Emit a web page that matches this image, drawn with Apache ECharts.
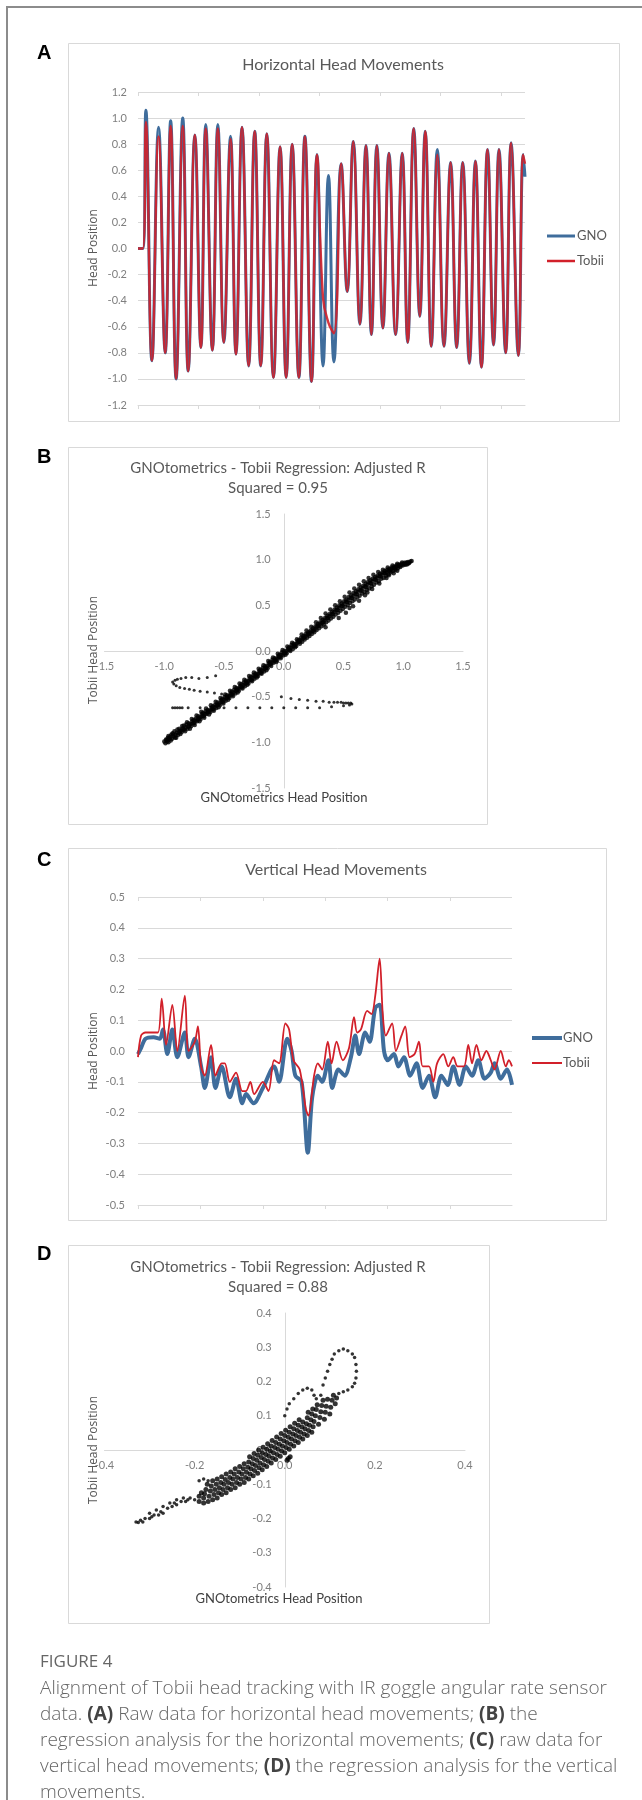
<!DOCTYPE html>
<html>
<head>
<meta charset="utf-8">
<script src="https://cdn.jsdelivr.net/npm/echarts@6/dist/echarts.min.js"></script>
<style>
html, body { margin: 0; padding: 0; background: #fff; }
#chart { width: 642px; height: 1800px; }
</style>
</head>
<body>
<div id="chart"></div>
<script>
// A: horizontal head movements (sample index, peaks and troughs)
var horizX = [0, 8, 13, 23, 34, 45, 54, 63, 74, 83, 94, 104, 112, 123, 132, 142, 153, 162, 172, 183, 193, 203, 213, 224, 235, 245, 255, 266, 276, 287, 296, 306, 315, 324, 336, 346, 356, 367, 377, 386, 395, 405, 415, 426, 437, 446, 456, 466, 475, 485, 495, 506, 517, 527, 537, 548, 558, 568, 578, 588, 597, 608, 617, 629, 637, 640];
var horizGNO = [0, 0, 1.06, -0.86, 0.93, -0.80, 0.98, -1.00, 1.00, -0.94, 0.87, -0.76, 0.95, -0.78, 0.95, -0.72, 0.86, -0.81, 0.93, -0.90, 0.90, -0.90, 0.88, -0.99, 0.78, -0.99, 0.80, -0.99, 0.86, -1.02, 0.72, -0.90, 0.56, -0.87, 0.65, -0.33, 0.82, -0.58, 0.79, -0.66, 0.79, -0.61, 0.73, -0.66, 0.73, -0.72, 0.92, -0.52, 0.90, -0.75, 0.76, -0.75, 0.66, -0.76, 0.66, -0.88, 0.67, -0.91, 0.76, -0.74, 0.76, -0.80, 0.81, -0.82, 0.72, 0.55];
var horizTobii = [0, 0, 0.97, -0.86, 0.86, -0.80, 0.94, -1.00, 0.94, -0.94, 0.87, -0.76, 0.92, -0.78, 0.92, -0.72, 0.84, -0.81, 0.93, -0.90, 0.90, -0.90, 0.88, -0.99, 0.78, -0.99, 0.80, -0.99, 0.86, -1.02, 0.72, -0.38, -0.57, -0.65, 0.65, -0.33, 0.82, -0.58, 0.79, -0.66, 0.79, -0.61, 0.73, -0.66, 0.73, -0.72, 0.92, -0.52, 0.90, -0.75, 0.72, -0.75, 0.66, -0.76, 0.66, -0.88, 0.67, -0.91, 0.76, -0.74, 0.76, -0.80, 0.81, -0.82, 0.72, 0.65];
var horizTicks = [0, 100, 200, 300, 400, 500, 600];

// B: GNOtometrics vs Tobii, horizontal (main band)
var regressionH = [
  [-1.00,-0.99],[-0.99,-1.01],[-0.985,-0.97],[-0.975,-0.99],[-0.97,-0.95],
  [-0.965,-0.93],[-0.96,-0.965],[-0.95,-0.94],[-0.945,-0.98],[-0.94,-0.915],
  [-0.93,-0.90],[-0.92,-0.935],[-0.915,-0.88],[-0.905,-0.92],[-0.90,-0.95],
  [-0.89,-0.86],[-0.88,-0.895],[-0.875,-0.85],[-0.865,-0.91],[-0.86,-0.87],
  [-0.85,-0.82],[-0.84,-0.86],[-0.835,-0.815],[-0.825,-0.88],[-0.82,-0.835],
  [-0.81,-0.78],[-0.80,-0.83],[-0.795,-0.79],[-0.785,-0.85],[-0.78,-0.80],
  [-0.77,-0.745],[-0.76,-0.79],[-0.755,-0.755],[-0.745,-0.81],[-0.74,-0.765],
  [-0.73,-0.705],[-0.72,-0.75],[-0.715,-0.715],[-0.705,-0.77],[-0.70,-0.725],
  [-0.69,-0.665],[-0.68,-0.71],[-0.675,-0.68],[-0.665,-0.73],[-0.66,-0.69],
  [-0.65,-0.63],[-0.64,-0.67],[-0.635,-0.645],[-0.625,-0.695],[-0.62,-0.655],
  [-0.61,-0.595],[-0.60,-0.635],[-0.595,-0.605],[-0.585,-0.655],[-0.58,-0.615],
  [-0.57,-0.555],[-0.56,-0.595],[-0.555,-0.565],[-0.545,-0.615],[-0.54,-0.575],
  [-0.53,-0.515],[-0.52,-0.555],[-0.515,-0.525],[-0.505,-0.575],[-0.50,-0.535],
  [-0.49,-0.475],[-0.48,-0.515],[-0.475,-0.485],[-0.465,-0.535],[-0.46,-0.495],
  [-0.45,-0.435],[-0.44,-0.475],[-0.435,-0.445],[-0.425,-0.495],[-0.42,-0.455],
  [-0.41,-0.395],[-0.40,-0.435],[-0.395,-0.405],[-0.385,-0.455],[-0.38,-0.415],
  [-0.37,-0.355],[-0.36,-0.395],[-0.355,-0.365],[-0.345,-0.41],[-0.34,-0.375],
  [-0.33,-0.315],[-0.32,-0.355],[-0.315,-0.325],[-0.305,-0.37],[-0.30,-0.335],
  [-0.29,-0.275],[-0.28,-0.315],[-0.275,-0.285],[-0.265,-0.33],[-0.26,-0.295],
  [-0.25,-0.235],[-0.24,-0.275],[-0.235,-0.245],[-0.225,-0.29],[-0.22,-0.255],
  [-0.21,-0.195],[-0.20,-0.235],[-0.195,-0.205],[-0.185,-0.25],[-0.18,-0.215],
  [-0.17,-0.155],[-0.16,-0.195],[-0.155,-0.165],[-0.145,-0.21],[-0.14,-0.17],
  [-0.13,-0.11],[-0.12,-0.15],[-0.115,-0.12],[-0.105,-0.165],[-0.10,-0.125],
  [-0.09,-0.07],[-0.08,-0.105],[-0.075,-0.08],[-0.065,-0.12],[-0.06,-0.085],
  [-0.05,-0.03],[-0.04,-0.065],[-0.035,-0.04],[-0.025,-0.08],[-0.02,-0.045],
  [-0.01,0.01],[0.00,-0.025],[0.005,0.00],[0.015,-0.04],[0.02,-0.005],
  [0.03,0.05],[0.04,0.015],[0.045,0.04],[0.055,0.00],[0.06,0.035],
  [0.07,0.09],[0.08,0.055],[0.085,0.08],[0.095,0.04],[0.10,0.075],
  [0.11,0.13],[0.12,0.095],[0.125,0.12],[0.135,0.08],[0.14,0.115],
  [0.15,0.18],[0.16,0.14],[0.165,0.165],[0.175,0.125],[0.18,0.16],
  [0.19,0.225],[0.20,0.18],[0.205,0.205],[0.215,0.165],[0.22,0.20],
  [0.23,0.265],[0.24,0.22],[0.245,0.25],[0.255,0.205],[0.26,0.24],
  [0.27,0.315],[0.28,0.27],[0.285,0.295],[0.295,0.25],[0.30,0.29],
  [0.31,0.36],[0.32,0.31],[0.325,0.34],[0.335,0.29],[0.34,0.335],
  [0.35,0.41],[0.36,0.36],[0.365,0.385],[0.375,0.335],[0.38,0.38],
  [0.39,0.455],[0.40,0.40],[0.405,0.43],[0.415,0.375],[0.42,0.425],
  [0.43,0.50],[0.44,0.45],[0.445,0.475],[0.455,0.42],[0.46,0.47],
  [0.47,0.545],[0.48,0.49],[0.485,0.52],[0.495,0.46],[0.50,0.51],
  [0.51,0.595],[0.52,0.54],[0.525,0.565],[0.535,0.505],[0.54,0.555],
  [0.55,0.64],[0.56,0.58],[0.565,0.61],[0.575,0.545],[0.58,0.60],
  [0.59,0.685],[0.60,0.625],[0.605,0.655],[0.615,0.59],[0.62,0.645],
  [0.63,0.725],[0.64,0.665],[0.645,0.695],[0.655,0.63],[0.66,0.685],
  [0.67,0.765],[0.68,0.705],[0.685,0.735],[0.695,0.67],[0.70,0.725],
  [0.71,0.80],[0.72,0.745],[0.725,0.775],[0.735,0.71],[0.74,0.765],
  [0.75,0.835],[0.76,0.785],[0.765,0.81],[0.775,0.75],[0.78,0.80],
  [0.79,0.865],[0.80,0.82],[0.805,0.845],[0.815,0.79],[0.82,0.835],
  [0.83,0.89],[0.84,0.85],[0.845,0.875],[0.855,0.825],[0.86,0.865],
  [0.87,0.915],[0.88,0.88],[0.885,0.90],[0.895,0.86],[0.90,0.895],
  [0.91,0.935],[0.92,0.905],[0.925,0.925],[0.935,0.89],[0.94,0.92],
  [0.95,0.955],[0.96,0.93],[0.965,0.945],[0.975,0.92],[0.98,0.94],
  [0.99,0.97],[1.00,0.95],[1.01,0.965],[1.02,0.945],[1.03,0.96],
  [1.04,0.975],[1.05,0.965],[1.06,0.98],[1.07,0.985],
  [-0.98,-0.975],[-0.965,-1.0],[-0.955,-0.955],[-0.935,-0.96],[-0.925,-0.915],[-0.91,-0.95],[-0.895,-0.895],[-0.885,-0.92],
  [-0.87,-0.875],[-0.855,-0.89],[-0.845,-0.845],[-0.83,-0.86],[-0.815,-0.805],[-0.805,-0.85],[-0.79,-0.815],[-0.775,-0.825],
  [-0.765,-0.77],[-0.75,-0.79],[-0.735,-0.74],[-0.725,-0.77],[-0.71,-0.735],[-0.695,-0.745],[-0.685,-0.69],[-0.67,-0.715],
  [-0.655,-0.66],[-0.645,-0.69],[-0.63,-0.665],[-0.615,-0.67],[-0.605,-0.62],[-0.59,-0.64],[-0.575,-0.59],[-0.565,-0.625],
  [-0.55,-0.585],[-0.535,-0.595],[-0.525,-0.54],[-0.51,-0.56],[-0.495,-0.505],[-0.485,-0.545],[-0.47,-0.505],[-0.455,-0.515],
  [-0.445,-0.465],[-0.43,-0.48],[-0.415,-0.425],[-0.405,-0.465],[-0.39,-0.425],[-0.375,-0.435],[-0.365,-0.385],[-0.35,-0.40],
  [-0.335,-0.345],[-0.325,-0.385],[-0.31,-0.345],[-0.295,-0.355],[-0.285,-0.30],[-0.27,-0.32],[-0.255,-0.265],[-0.245,-0.305],
  [-0.23,-0.265],[-0.215,-0.275],[-0.205,-0.22],[-0.19,-0.24],[-0.175,-0.185],[-0.165,-0.225],[-0.15,-0.185],[-0.135,-0.19],
  [-0.125,-0.135],[-0.11,-0.145],[-0.095,-0.095],[-0.085,-0.13],[-0.07,-0.10],[-0.055,-0.105],[-0.045,-0.055],[-0.03,-0.065],
  [-0.015,-0.015],[-0.005,-0.05],[0.01,-0.02],[0.025,-0.025],[0.035,0.025],[0.05,0.015],[0.065,0.065],[0.075,0.02],
  [0.09,0.06],[0.105,0.055],[0.115,0.105],[0.13,0.10],[0.145,0.145],[0.155,0.10],[0.17,0.145],[0.185,0.185],
  [0.195,0.145],[0.21,0.185],[0.225,0.225],[0.235,0.185],[0.25,0.225],[0.265,0.27],[0.275,0.23],[0.29,0.275],
  [0.305,0.315],[0.315,0.27],[0.33,0.315],[0.345,0.36],[0.355,0.315],[0.37,0.36],[0.385,0.405],[0.395,0.355],
  [0.41,0.405],[0.425,0.455],[0.435,0.40],[0.45,0.45],[0.465,0.50],[0.475,0.44],[0.49,0.495],[0.505,0.545],
  [0.515,0.485],[0.53,0.535],[0.545,0.59],[0.555,0.525],[0.57,0.58],[0.585,0.635],[0.595,0.565],[0.61,0.62],
  [0.625,0.675],[0.635,0.605],[0.65,0.66],[0.665,0.715],[0.675,0.645],[0.69,0.70],[0.705,0.755],[0.715,0.685],
  [0.73,0.74],[0.745,0.79],[0.755,0.725],[0.77,0.78],[0.785,0.825],[0.795,0.765],[0.81,0.815],[0.825,0.86],
  [0.835,0.80],[0.85,0.85],[0.865,0.89],[0.875,0.84],[0.89,0.88],[0.905,0.915],[0.915,0.875],[0.93,0.905],
  [0.945,0.94],[0.955,0.905],[0.97,0.935],[0.985,0.955],[0.995,0.935],[1.01,0.95],[1.025,0.97],[1.035,0.95],[1.045,0.96],
  [0.46,0.36],[0.52,0.42],[0.58,0.49],[0.63,0.55],[0.68,0.61],[0.74,0.68],[0.80,0.74],[0.86,0.80],[0.92,0.85],[0.35,0.26],
  [0.55,0.47],[0.70,0.64],[0.88,0.83],[0.95,0.88]
];
// B: the stretch where the two trackers disagree
var regressionHOut = [
  [-0.92,-0.36],[-0.93,-0.34],[-0.91,-0.32],[-0.89,-0.31],[-0.86,-0.30],[-0.82,-0.29],[-0.77,-0.29],[-0.71,-0.30],[-0.64,-0.29],[-0.57,-0.27],
  [-0.90,-0.38],[-0.87,-0.40],[-0.83,-0.41],[-0.79,-0.42],[-0.75,-0.43],[-0.70,-0.44],[-0.64,-0.45],[-0.58,-0.46],[-0.52,-0.47],
  [-0.02,-0.50],[0.06,-0.52],[0.13,-0.53],[0.20,-0.54],[0.27,-0.55],[0.33,-0.55],[0.38,-0.56],[0.42,-0.56],[0.45,-0.56],[0.48,-0.56],
  [0.50,-0.57],[0.52,-0.57],[0.54,-0.57],[0.56,-0.57],[0.57,-0.58],
  [-0.93,-0.62],[-0.91,-0.62],[-0.89,-0.62],[-0.87,-0.62],[-0.85,-0.62],[-0.80,-0.62],[-0.70,-0.62],[-0.60,-0.62],[-0.50,-0.62],[-0.40,-0.62],
  [-0.30,-0.62],[-0.20,-0.62],[-0.10,-0.62],[0.00,-0.62],[0.10,-0.62],[0.20,-0.62],[0.30,-0.62],[0.40,-0.61],[0.50,-0.60],[0.55,-0.59]
];

// C: vertical head movements
var vertXTobii = [0, 5, 12, 22, 32, 38, 45, 55, 63, 75, 81, 91, 96, 101, 107, 117, 124, 134, 139, 147, 157, 167, 173, 180, 186, 200, 209, 218, 226, 236, 242, 249, 259, 269, 273, 282, 288, 295, 304, 310, 318, 328, 338, 346, 351, 357, 367, 374, 380, 387, 392, 397, 407, 413, 422, 428, 435, 443, 450, 456, 466, 473, 479, 489, 497, 505, 512, 522, 529, 535, 542, 550, 558, 565, 571, 581, 589, 594, 599];
var vertTobii = [-0.02, 0.05, 0.06, 0.06, 0.06, 0.17, 0.02, 0.15, 0.0, 0.18, 0.0, 0.03, 0.08, -0.05, -0.08, 0.02, -0.08, -0.04, -0.04, -0.10, -0.07, -0.13, -0.13, -0.10, -0.14, -0.10, -0.13, -0.03, -0.04, 0.09, 0.07, -0.03, -0.06, -0.19, -0.21, -0.08, -0.04, -0.06, 0.03, -0.04, 0.03, -0.03, 0.01, 0.11, 0.06, 0.07, 0.13, 0.12, 0.18, 0.30, 0.12, 0.05, 0.09, 0.0, 0.05, 0.08, -0.02, -0.01, 0.03, -0.05, -0.05, -0.10, -0.04, -0.01, -0.05, -0.02, -0.05, -0.05, 0.02, -0.04, 0.02, -0.03, 0.0, -0.03, -0.06, 0.0, -0.05, -0.03, -0.05];
var vertXGNO = [0, 5, 12, 25, 35, 40, 47, 55, 63, 75, 81, 91, 101, 107, 117, 124, 134, 147, 157, 167, 173, 185, 200, 218, 226, 239, 246, 252, 262, 272, 279, 288, 295, 305, 311, 321, 331, 341, 348, 354, 364, 371, 380, 387, 394, 400, 410, 417, 426, 436, 446, 456, 466, 476, 486, 496, 505, 515, 525, 535, 545, 555, 565, 571, 581, 591, 599];
var vertGNO = [-0.01, 0.01, 0.04, 0.045, 0.04, 0.07, -0.01, 0.07, -0.02, 0.06, -0.02, 0.04, -0.05, -0.12, -0.02, -0.12, -0.05, -0.15, -0.09, -0.17, -0.14, -0.17, -0.12, -0.05, -0.10, 0.04, 0.0, -0.08, -0.10, -0.33, -0.15, -0.08, -0.10, -0.03, -0.12, -0.06, -0.08, -0.02, 0.05, -0.01, 0.06, 0.03, 0.14, 0.15, 0.0, -0.03, -0.01, -0.05, -0.02, -0.08, -0.04, -0.12, -0.08, -0.15, -0.08, -0.11, -0.05, -0.11, -0.05, -0.08, -0.03, -0.09, -0.07, -0.04, -0.09, -0.06, -0.11];
var vertTicks = [0, 100, 200, 300, 400, 500];

// D: GNOtometrics vs Tobii, vertical (main cloud)
var regressionV = [
  [-0.19,-0.15],[-0.19,-0.135],[-0.185,-0.125],
  [-0.18,-0.155],[-0.18,-0.14],[-0.178,-0.128],[-0.175,-0.115],[-0.172,-0.10],
  [-0.17,-0.15],[-0.168,-0.135],[-0.165,-0.12],[-0.163,-0.105],[-0.16,-0.09],
  [-0.16,-0.145],[-0.157,-0.13],[-0.155,-0.115],[-0.152,-0.10],[-0.15,-0.085],
  [-0.15,-0.14],[-0.147,-0.125],[-0.145,-0.11],[-0.142,-0.095],[-0.14,-0.078],
  [-0.14,-0.13],[-0.137,-0.115],[-0.135,-0.10],[-0.132,-0.086],[-0.13,-0.07],
  [-0.13,-0.125],[-0.127,-0.11],[-0.125,-0.095],[-0.122,-0.08],[-0.12,-0.064],
  [-0.12,-0.115],[-0.117,-0.10],[-0.115,-0.085],[-0.112,-0.07],[-0.11,-0.055],
  [-0.11,-0.11],[-0.107,-0.095],[-0.105,-0.08],[-0.102,-0.064],[-0.10,-0.048],
  [-0.10,-0.10],[-0.097,-0.085],[-0.095,-0.07],[-0.092,-0.055],[-0.09,-0.04],
  [-0.09,-0.095],[-0.087,-0.08],[-0.085,-0.065],[-0.082,-0.05],[-0.08,-0.035],[-0.078,-0.02],
  [-0.08,-0.085],[-0.077,-0.07],[-0.075,-0.055],[-0.072,-0.04],[-0.07,-0.025],[-0.068,-0.01],
  [-0.07,-0.075],[-0.067,-0.06],[-0.065,-0.045],[-0.062,-0.03],[-0.06,-0.015],[-0.058,0.0],
  [-0.06,-0.068],[-0.057,-0.052],[-0.055,-0.038],[-0.052,-0.022],[-0.05,-0.008],[-0.048,0.008],
  [-0.05,-0.058],[-0.047,-0.043],[-0.045,-0.028],[-0.042,-0.013],[-0.04,0.002],[-0.038,0.018],
  [-0.04,-0.048],[-0.037,-0.033],[-0.035,-0.018],[-0.032,-0.003],[-0.03,0.012],[-0.028,0.028],
  [-0.03,-0.038],[-0.027,-0.023],[-0.025,-0.008],[-0.022,0.007],[-0.02,0.022],[-0.018,0.038],
  [-0.02,-0.028],[-0.017,-0.013],[-0.015,0.002],[-0.012,0.017],[-0.01,0.032],[-0.008,0.048],
  [-0.01,-0.018],[-0.007,-0.003],[-0.005,0.012],[-0.002,0.027],[0.0,0.042],[0.002,0.058],
  [0.0,-0.008],[0.003,0.007],[0.005,0.022],[0.008,0.037],[0.01,0.052],[0.012,0.068],
  [0.01,0.002],[0.013,0.017],[0.015,0.032],[0.018,0.047],[0.02,0.062],[0.022,0.078],
  [0.02,0.012],[0.023,0.027],[0.025,0.042],[0.028,0.057],[0.03,0.072],[0.032,0.088],
  [0.03,0.022],[0.033,0.037],[0.035,0.052],[0.038,0.067],[0.04,0.082],
  [0.04,0.032],[0.043,0.047],[0.045,0.062],[0.048,0.077],[0.05,0.094],[0.052,0.11],
  [0.05,0.042],[0.053,0.057],[0.055,0.072],[0.058,0.088],[0.06,0.105],[0.062,0.12],
  [0.06,0.052],[0.063,0.068],[0.065,0.083],[0.068,0.10],[0.07,0.118],[0.072,0.132],
  [0.075,0.075],[0.078,0.095],[0.08,0.112],[0.082,0.13],[0.085,0.145],
  [0.088,0.09],[0.09,0.11],[0.092,0.128],[0.095,0.148],
  [0.10,0.105],[0.102,0.125],[0.105,0.145],[0.108,0.16],[0.112,0.135],[0.115,0.152],
  [0.005,-0.03],[0.012,-0.02],[0.008,-0.025]
];
// D: the lower tail and the upper loop
var regressionVOut = [
  [-0.33,-0.21],[-0.325,-0.212],[-0.32,-0.205],[-0.315,-0.21],[-0.31,-0.2],[-0.30,-0.2],[-0.295,-0.195],[-0.29,-0.19],[-0.28,-0.19],[-0.275,-0.18],
  [-0.27,-0.185],[-0.26,-0.17],[-0.25,-0.165],[-0.245,-0.155],[-0.24,-0.16],[-0.23,-0.15],[-0.22,-0.15],[-0.215,-0.145],[-0.21,-0.14],[-0.20,-0.145],
  [-0.30,-0.185],[-0.285,-0.175],[-0.27,-0.165],[-0.255,-0.155],[-0.24,-0.145],[-0.225,-0.14],[-0.19,-0.09],[-0.18,-0.085],[-0.17,-0.09],
  [0.0,0.10],[0.005,0.12],[0.01,0.135],[0.02,0.15],[0.03,0.165],[0.04,0.175],[0.05,0.18],[0.06,0.175],[0.065,0.16],[0.07,0.15],
  [0.08,0.16],[0.085,0.19],[0.09,0.21],[0.095,0.23],[0.10,0.25],[0.105,0.265],[0.11,0.28],[0.12,0.29],[0.13,0.295],[0.14,0.29],
  [0.15,0.28],[0.155,0.27],[0.158,0.25],[0.159,0.23],[0.158,0.21],[0.155,0.195],[0.15,0.185],[0.14,0.175],[0.13,0.17],[0.12,0.165]
];

function pairs(xs, ys) {
  return xs.map(function (x, i) { return [x, ys[i]]; });
}
function oneDec(v) {
  return v.toFixed(1);
}

var blue = '#3f6d9c';
var red = '#d2202a';
var grey = '#7f7f7f';
var lineGrey = '#d9d9d9';
var font = 'Lato, "Open Sans", sans-serif';
var capFont = '"Open Sans", Lato, sans-serif';

var myChart = echarts.init(document.getElementById('chart'), null, { renderer: 'canvas' });

// 时间序列的 x 轴（底部带刻度）
function seriesXAxis(grid, max, ticks, inside) {
  return {
    type: 'value', gridIndex: grid, min: 0, max: max,
    axisLine: { show: !inside, onZero: false, lineStyle: { color: lineGrey } },
    axisTick: { show: true, inside: inside, length: 4, customValues: ticks, lineStyle: { color: lineGrey } },
    axisLabel: { show: false },
    splitLine: { show: false }
  };
}
function seriesYAxis(grid, min, max, step, margin) {
  return {
    type: 'value', gridIndex: grid, min: min, max: max, interval: step,
    axisLine: { show: false }, axisTick: { show: false },
    axisLabel: { color: grey, fontSize: 11, fontFamily: font, margin: margin, formatter: oneDec },
    splitLine: { lineStyle: { color: lineGrey } }
  };
}
// 回归图的轴：移到零点
function crossAxis(grid, lim, step, margin, offset) {
  return {
    type: 'value', gridIndex: grid, min: -lim, max: lim, interval: step, offset: offset,
    axisLine: { show: true, onZero: false, lineStyle: { color: lineGrey } },
    axisTick: { show: false },
    axisLabel: { color: grey, fontSize: 11, fontFamily: font, margin: margin, formatter: oneDec },
    splitLine: { show: false }
  };
}

function txt(x, y, s, opt) {
  var st = { text: s, x: 0, y: 0, fill: opt.fill || '#595959', font: opt.font || ('15px ' + font),
    textAlign: opt.align || 'center', textVerticalAlign: 'middle' };
  return { type: 'text', x: x, y: y, rotation: opt.rot || 0, style: st, z: 10 };
}
function box(x, y, w, h) {
  return { type: 'rect', shape: { x: x + 0.5, y: y + 0.5, width: w, height: h },
    style: { fill: null, stroke: lineGrey, lineWidth: 1 }, z: 1 };
}
function legLine(x1, x2, y, color, w) {
  return { type: 'line', shape: { x1: x1, y1: y, x2: x2, y2: y }, style: { stroke: color, lineWidth: w }, z: 10 };
}
var letterFont = 'bold 20px "Liberation Sans", Arial, sans-serif';

var option = {
  animation: false,
  backgroundColor: '#fff',
  textStyle: { fontFamily: font },
  grid: [
    { left: 138, top: 92, width: 387, height: 313 },
    { left: 104.5, top: 514, width: 358.5, height: 274 },
    { left: 138, top: 897, width: 374, height: 308 },
    { left: 104.5, top: 1313, width: 360.5, height: 274 }
  ],
  xAxis: [
    seriesXAxis(0, 640, horizTicks, false),
    seriesXAxis(0, 640, horizTicks, true),
    crossAxis(1, 1.5, 0.5, 10, -137),
    seriesXAxis(2, 599, vertTicks, false),
    seriesXAxis(2, 599, vertTicks, true),
    crossAxis(3, 0.4, 0.2, 10, -137)
  ],
  yAxis: [
    seriesYAxis(0, -1.2, 1.2, 0.2, 11),
    crossAxis(1, 1.5, 0.5, 13, -179.25),
    seriesYAxis(2, -0.5, 0.5, 0.1, 13),
    crossAxis(3, 0.4, 0.1, 13, -180.25)
  ],
  series: [
    { name: 'GNO', type: 'line', xAxisIndex: 0, yAxisIndex: 0, data: pairs(horizX, horizGNO),
      smooth: 0.45, showSymbol: false, lineStyle: { color: blue, width: 3 } },
    { name: 'Tobii', type: 'line', xAxisIndex: 0, yAxisIndex: 0, data: pairs(horizX, horizTobii),
      smooth: 0.45, showSymbol: false, lineStyle: { color: red, width: 2.4, opacity: 0.9 } },
    { name: 'Horizontal', type: 'scatter', xAxisIndex: 2, yAxisIndex: 1, data: regressionH,
      symbolSize: 4.5, itemStyle: { color: '#000' } },
    { name: 'Horizontal outliers', type: 'scatter', xAxisIndex: 2, yAxisIndex: 1, data: regressionHOut,
      symbolSize: 3, itemStyle: { color: '#000' } },
    { name: 'GNO', type: 'line', xAxisIndex: 3, yAxisIndex: 2, data: pairs(vertXGNO, vertGNO),
      smooth: 0.3, showSymbol: false, lineStyle: { color: blue, width: 4 } },
    { name: 'Tobii', type: 'line', xAxisIndex: 3, yAxisIndex: 2, data: pairs(vertXTobii, vertTobii),
      smooth: 0.3, showSymbol: false, lineStyle: { color: red, width: 1.8 } },
    { name: 'Vertical', type: 'scatter', xAxisIndex: 5, yAxisIndex: 3, data: regressionV,
      symbolSize: 5, itemStyle: { color: '#000' } },
    { name: 'Vertical outliers', type: 'scatter', xAxisIndex: 5, yAxisIndex: 3, data: regressionVOut,
      symbolSize: 3.5, itemStyle: { color: '#000' } }
  ],
  graphic: [
    { type: 'polyline', shape: { points: [[7, 1800], [7, 7], [642, 7]] },
      style: { fill: null, stroke: '#8c8c8c', lineWidth: 2 }, z: 1 },
    box(68, 43, 551, 378), box(68, 447, 419, 377), box(68, 848, 538, 372), box(68, 1245, 421, 378),
    txt(37, 53, 'A', { align: 'left', fill: '#000', font: letterFont }),
    txt(37, 457, 'B', { align: 'left', fill: '#000', font: letterFont }),
    txt(37, 860, 'C', { align: 'left', fill: '#000', font: letterFont }),
    txt(37, 1254, 'D', { align: 'left', fill: '#000', font: letterFont }),
    txt(343, 65, 'Horizontal Head Movements', { font: '16px ' + font }),
    txt(278, 468, 'GNOtometrics - Tobii Regression: Adjusted R', { font: '15px ' + font }),
    txt(278, 488, 'Squared = 0.95', { font: '15px ' + font }),
    txt(336, 870, 'Vertical Head Movements', { font: '16px ' + font }),
    txt(278, 1267, 'GNOtometrics - Tobii Regression: Adjusted R', { font: '15px ' + font }),
    txt(278, 1287, 'Squared = 0.88', { font: '15px ' + font }),
    txt(94, 248, 'Head Position', { rot: Math.PI / 2, font: '12px "Open Sans", sans-serif' }),
    txt(94, 650, 'Tobii Head Position', { rot: Math.PI / 2, font: '12px "Open Sans", sans-serif' }),
    txt(94, 1051, 'Head Position', { rot: Math.PI / 2, font: '12px "Open Sans", sans-serif' }),
    txt(94, 1450, 'Tobii Head Position', { rot: Math.PI / 2, font: '12px "Open Sans", sans-serif' }),
    txt(284, 798, 'GNOtometrics Head Position', { fill: '#404040', font: '13px ' + font }),
    txt(279, 1599, 'GNOtometrics Head Position', { fill: '#404040', font: '13px ' + font }),
    legLine(547, 575, 236, blue, 3), txt(577, 236, 'GNO', { align: 'left', font: '13px ' + font }),
    legLine(547, 575, 261, red, 2.5), txt(577, 261, 'Tobii', { align: 'left', font: '13px ' + font }),
    legLine(532, 562, 1038, blue, 4), txt(563, 1038, 'GNO', { align: 'left', font: '13px ' + font }),
    legLine(532, 562, 1063, red, 2), txt(563, 1063, 'Tobii', { align: 'left', font: '13px ' + font }),
    txt(40, 1662, 'FIGURE 4', { align: 'left', fill: '#666', font: '17px ' + capFont }),
    {
      type: 'text', x: 40, y: 1676, z: 10,
      style: {
        text: 'Alignment of Tobii head tracking with IR goggle angular rate sensor\n' +
          'data. {b|(A)} Raw data for horizontal head movements; {b|(B)} the\n' +
          'regression analysis for the horizontal movements; {b|(C)} raw data for\n' +
          'vertical head movements; {b|(D)} the regression analysis for the vertical\n' +
          'movements.',
        fill: '#666', fontSize: 19, fontFamily: capFont, fontWeight: 300, lineHeight: 26,
        textAlign: 'left', textVerticalAlign: 'top',
        rich: { b: { fontSize: 19, fontFamily: capFont, fontWeight: 'bold', fill: '#444', color: '#444', lineHeight: 26 } }
      }
    }
  ]
};

myChart.setOption(option);
</script>
</body>
</html>
